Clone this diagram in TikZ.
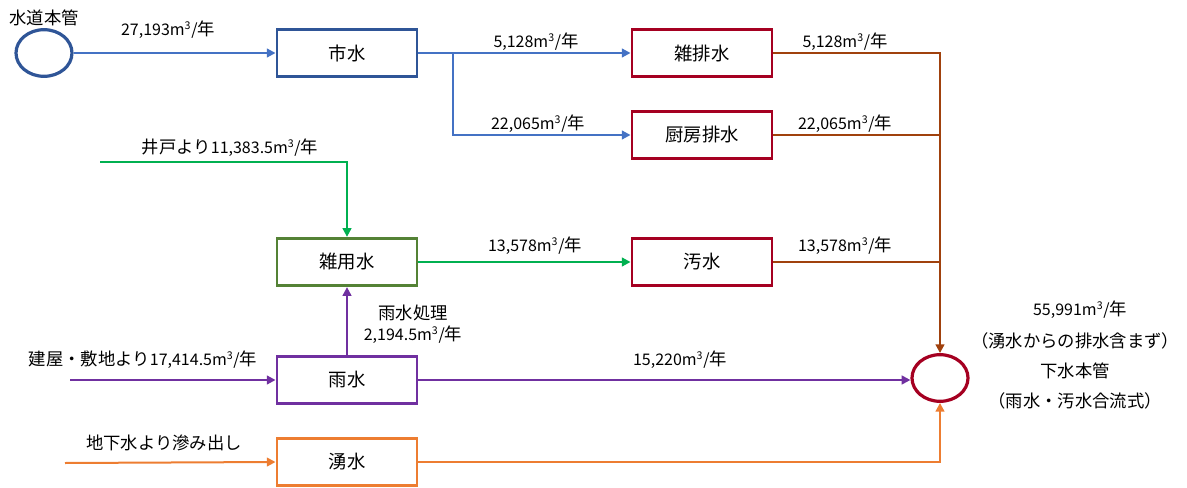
\documentclass[tikz,border=0pt]{standalone}
\usepackage{fontspec}
\setmainfont{Noto Sans CJK JP}
\usetikzlibrary{arrows.meta,shapes.geometric}
\definecolor{pipeblue}{HTML}{4472C4}
\definecolor{boxblue}{HTML}{2F5597}
\definecolor{drainred}{HTML}{A50021}
\definecolor{drainbrown}{HTML}{A0410D}
\definecolor{wellgreen}{HTML}{00B050}
\definecolor{boxgreen}{HTML}{548235}
\definecolor{rainpurple}{HTML}{7030A0}
\definecolor{springorange}{HTML}{ED7D31}
\newcommand{\flowval}[1]{{\fontsize{12}{14}\selectfont #1m\textsuperscript{3}/}年}

\begin{document}
\begin{tikzpicture}[x=0.75pt,y=-0.75pt,
    tank/.style={draw,line width=2.2pt,minimum width=105pt,minimum height=35.5pt,font=\fontsize{13.8}{16}\selectfont},
    pipe/.style={ellipse,draw,line width=2.4pt,minimum width=42pt,minimum height=35pt},
    flow/.style={line width=1.5pt,-{Triangle[length=6.5pt,width=6.5pt]}},
    line/.style={line width=1.5pt},
    lbl/.style={font=\fontsize{13}{15}\selectfont,inner sep=0pt}]

    \useasboundingbox (0,0) rectangle (1187,488);

    % 1. Pipes (circles)
    \node[pipe,draw=boxblue] (mainpipe) at (44,53) {};
    \node[lbl] (mainpipelbl) at (44,18) {水道本管};
    \node[pipe,draw=drainred] (sewer) at (940,378) {};

    % 2. Boxes
    \node[tank,draw=boxblue] (city) at (347,53) {市水};
    \node[tank,draw=drainred] (misc) at (702,53) {雑排水};
    \node[tank,draw=drainred] (kitchen) at (702,135) {厨房排水};
    \node[tank,draw=boxgreen] (reuse) at (347,262) {雑用水};
    \node[tank,draw=drainred] (sewage) at (702,262) {汚水};
    \node[tank,draw=rainpurple] (rain) at (347,380) {雨水};
    \node[tank,draw=springorange] (spring) at (347,462) {湧水};

    % 3. City water
    \coordinate (split) at (453,53);
    \draw[flow,pipeblue] (mainpipe.east) -- (city.west);
    \draw[line,pipeblue] (city.east) -- (split);
    \draw[flow,pipeblue] (split) -- (misc.west);
    \draw[flow,pipeblue] (split) |- (kitchen.west);

    % 4. Drain to sewer
    \coordinate (drain) at (940,53);
    \draw[flow,drainbrown] (misc.east) -| (sewer.north);
    \draw[line,drainbrown] (kitchen.east) -- (kitchen.east -| drain);
    \draw[line,drainbrown] (sewage.east) -- (sewage.east -| drain);

    % 5. Well water
    \coordinate (well) at (100,162);
    \draw[flow,wellgreen] (well) -| (reuse.north);
    \draw[flow,wellgreen] (reuse.east) -- (sewage.west);

    % 6. Rain water
    \coordinate (site) at (70,380);
    \draw[flow,rainpurple] (site) -- (rain.west);
    \draw[flow,rainpurple] (rain.north) -- (reuse.south);
    \draw[flow,rainpurple] (rain.east) -- (rain.east -| sewer.west);

    % 7. Spring water
    \coordinate (ground) at (65,463);
    \draw[flow,springorange] (ground) -- (spring.west);
    \draw[flow,springorange] (spring.east) -| (sewer.south);

    % 8. Labels
    \node[lbl] (l1) at (168,30) {\flowval{27,193}};
    \node[lbl] (l2) at (536,42) {\flowval{5,128}};
    \node[lbl] (l3) at (538,124) {\flowval{22,065}};
    \node[lbl] (l4) at (845,42) {\flowval{5,128}};
    \node[lbl] (l5) at (845,124) {\flowval{22,065}};
    \node[lbl] (l6) at (230,148) {井戸より\flowval{11,383.5}};
    \node[lbl] (l7) at (535,246) {\flowval{13,578}};
    \node[lbl] (l8) at (845,246) {\flowval{13,578}};
    \node[lbl] (l9) at (413,313) {雨水処理};
    \node[lbl] (l10) at (413,335) {\flowval{2,194.5}};
    \node[lbl] (l11) at (143,360) {建屋・敷地より\flowval{17,414.5}};
    \node[lbl] (l12) at (680,360) {\flowval{15,220}};
    \node[lbl] (l13) at (164,443) {地下水より滲み出し};
    \node[lbl] (l14) at (1080,310) {\flowval{55,991}};
    \node[lbl] (l15) at (1075,341) {（湧水からの排水含まず）};
    \node[lbl] (l16) at (1075,371) {下水本管};
    \node[lbl] (l17) at (1075,401) {（雨水・汚水合流式）};

\end{tikzpicture}
\end{document}
